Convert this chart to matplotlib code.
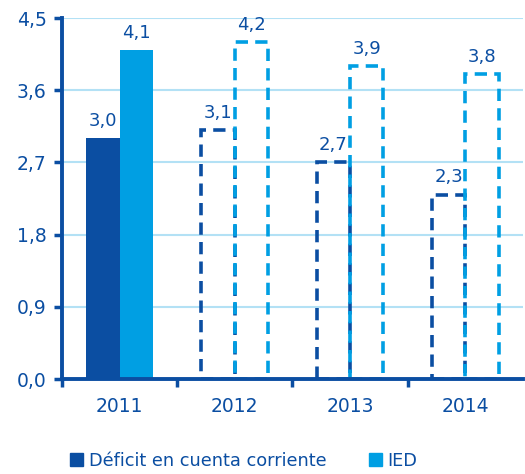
import matplotlib.pyplot as plt
import numpy as np
from matplotlib.patches import Patch

years = ["2011", "2012", "2013", "2014"]
deficit = [3.0, 3.1, 2.7, 2.3]
ied = [4.1, 4.2, 3.9, 3.8]
projected = [False, True, True, True]
y_ticks = [0.0, 0.9, 1.8, 2.7, 3.6, 4.5]

DARK = "#0b4ea2"
LIGHT = "#009fe3"
GRID = "#b3e1f5"

plt.rcParams['font.family'] = ['DejaVu Sans']

fig = plt.figure(figsize=(5.25, 4.74), dpi=100)
ax = fig.add_axes([0.118, 0.2, 0.878, 0.762])

x = np.arange(len(years))
w = 0.29
dash = (0, (3.4, 2.0))

for i in x:
    for val, off, col in [(deficit[i], -w / 2, DARK), (ied[i], w / 2, LIGHT)]:
        if projected[i]:
            ax.bar(i + off, val, w, fill=False, edgecolor=col, linewidth=2.6,
                   linestyle=dash, zorder=3)
        else:
            ax.bar(i + off, val, w, color=col, edgecolor=col, linewidth=0, zorder=3)
        ax.annotate(f"{val:.1f}".replace(".", ","), (i + off, val),
                    xytext=(0, 6), textcoords="offset points",
                    ha="center", va="bottom", fontsize=13, color=DARK)

ax.set_xlim(-0.5, 3.5)
ax.set_ylim(0, 4.5)
ax.set_yticks(y_ticks)
ax.set_yticklabels([f"{t:.1f}".replace(".", ",") for t in y_ticks])
ax.set_xticks(x)
ax.set_xticklabels(years)
ax.set_xticks([-0.5, 0.5, 1.5, 2.5], minor=True)
ax.tick_params(axis="x", which="major", length=0, pad=13, labelsize=13.5, labelcolor=DARK)
ax.tick_params(axis="x", which="minor", length=6, width=2.5, color=DARK, direction="out")
ax.tick_params(axis="y", length=6, width=2.5, color=DARK, labelsize=13.5, labelcolor=DARK, pad=5)

ax.grid(axis="y", color=GRID, linewidth=1.5, zorder=0)
for s in ["top", "right"]:
    ax.spines[s].set_visible(False)
for s in ["left", "bottom"]:
    ax.spines[s].set_color(DARK)
    ax.spines[s].set_linewidth(2.8)
    ax.spines[s].set_zorder(4)

handles = [Patch(color=DARK, label="Déficit en cuenta corriente"),
           Patch(color=LIGHT, label="IED")]
fig.legend(handles=handles, loc="lower left", bbox_to_anchor=(0.103, -0.025), ncol=2,
           frameon=False, fontsize=12.8, labelcolor=DARK, handlelength=0.75,
           handleheight=0.75, handletextpad=0.3, columnspacing=2.4)

fig.savefig("out.png", dpi=100)
